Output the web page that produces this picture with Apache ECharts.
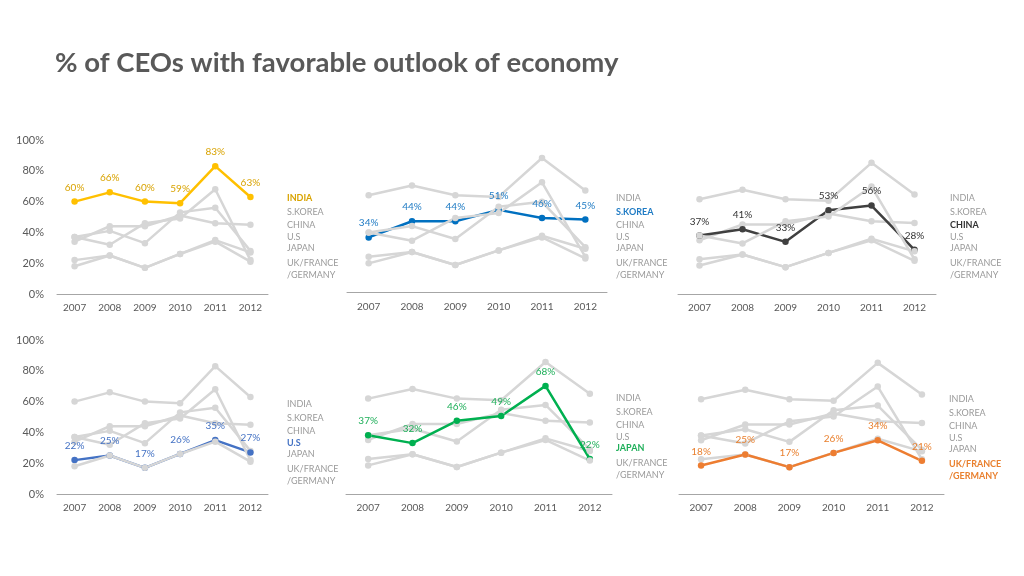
<!DOCTYPE html>
<html><head><meta charset="utf-8">
<script src="https://cdn.jsdelivr.net/npm/echarts@6/dist/echarts.min.js"></script>
<style>html,body{margin:0;padding:0;background:#fff}#c{width:1024px;height:576px}</style>
</head><body><div id="c"></div>
<script>
const years = ['2007','2008','2009','2010','2011','2012'];
const india  = [60, 66, 60, 59, 83, 63];
const skorea = [34, 44, 44, 51, 46, 45];
const china  = [37, 41, 33, 53, 56, 28];
const us     = [22, 25, 17, 26, 35, 27];
const japan  = [37, 32, 46, 49, 68, 22];
const ukfg   = [18, 25, 17, 26, 34, 21];
const countryNames = ['INDIA','S.KOREA','CHINA','U.S','JAPAN','UK/FRANCE\n/GERMANY'];
const yTicks = [0, 20, 40, 60, 80, 100];
const titleText = '% of CEOs with favorable outlook of economy';

const seriesData = [india, skorea, china, us, japan, ukfg];
const lineColors  = ['#FFC000','#0070C0','#404040','#4472C4','#00B050','#ED7D31'];
const labelColors = ['#D9A300','#1F7BC4','#333333','#4472C4','#1FAF5A','#E9802F'];
const grey = '#d6d6d6';
const FONT = 'Lato, "Open Sans", sans-serif';

const grids = [
  {left:57,  top:140,   width:211, height:154},
  {left:347, top:130.5, width:260, height:162},
  {left:678, top:136,   width:258, height:158},
  {left:57,  top:340,   width:211, height:154},
  {left:346, top:335,   width:266, height:159},
  {left:679, top:336,   width:265, height:158}
];
const legendPos = [[287,198],[616,198],[950,198],[287,404],[616,398],[949,399]];
const legendOffsets = [0,14,27,39,50,65];
const legendLineGap = 12.5;

const xAxes = [], yAxes = [], series = [], graphics = [];
grids.forEach((g, p) => {
  const showY = (p === 0 || p === 3);
  xAxes.push({
    type:'category', gridIndex:p, data:years, boundaryGap:true,
    axisLine:{show:true, lineStyle:{color:'#a6a6a6', width:1}},
    axisTick:{show:false},
    axisLabel:{color:'#595959', fontSize:10, fontFamily:FONT, margin:9}
  });
  yAxes.push({
    type:'value', gridIndex:p, min:yTicks[0], max:yTicks[yTicks.length-1], interval:20,
    axisLine:{show:false}, axisTick:{show:false}, splitLine:{show:false},
    axisLabel:{show:showY, color:'#595959', fontSize:11, fontFamily:FONT, margin:13,
      formatter: v => v + '%'}
  });
  seriesData.forEach((d, s) => {
    const hi = s === p;
    series.push({
      type:'line', xAxisIndex:p, yAxisIndex:p, data:d, name:countryNames[s],
      symbol:'circle', symbolSize:6.5, silent:true, animation:false,
      lineStyle:{color: hi ? lineColors[s] : grey, width: 2.5},
      itemStyle:{color: hi ? lineColors[s] : grey},
      z: 2,
      label: hi ? {show:true, position:'top', distance:6, formatter: v => v.value + '%',
        color: labelColors[s], fontSize:10, fontFamily:FONT} : {show:false}
    });
  });
  countryNames.forEach((n, s) => {
    const hi = s === p;
    n.split('\n').forEach((line, k) => {
      graphics.push({
        type:'text', x:legendPos[p][0], y:legendPos[p][1] + legendOffsets[s] + k * legendLineGap,
        style:{text:line, fill: hi ? labelColors[s] : '#9a9a9a',
          font:(hi?'bold ':'') + '9px ' + FONT, verticalAlign:'middle'}
      });
    });
  });
});
graphics.push({type:'text', x:55, y:63, style:{text:titleText, fill:'#595959',
  font:'bold 27.5px ' + FONT, verticalAlign:'middle'}});

const chart = echarts.init(document.getElementById('c'), null, {renderer:'canvas'});
chart.setOption({
  animation:false, backgroundColor:'#fff',
  grid:grids, xAxis:xAxes, yAxis:yAxes, series:series, graphic:graphics
});
</script></body></html>
